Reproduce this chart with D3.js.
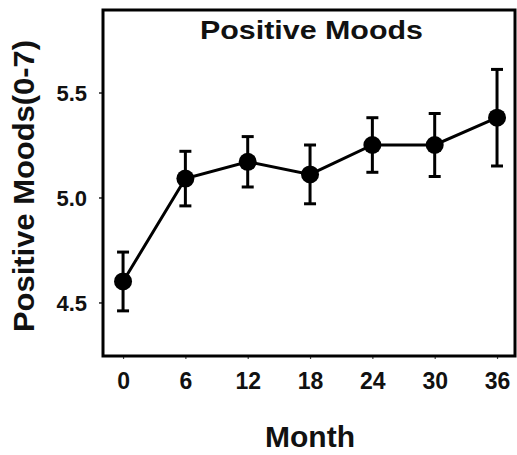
<!DOCTYPE html>
<html>
<head>
<meta charset="utf-8">
<script src="https://cdn.jsdelivr.net/npm/d3@7"></script>
<style>
  html, body { margin: 0; padding: 0; background: #fff; }
  svg { display: block; }
  text { font-family: "Liberation Sans", Arial, sans-serif; font-weight: bold; fill: #111; }
</style>
</head>
<body>
<svg id="chart" width="517" height="455"></svg>
<script>
// Mean positive mood score by month, with error bars
const months = [0, 6, 12, 18, 24, 30, 36];
const moodMeans = [4.60, 5.09, 5.17, 5.11, 5.25, 5.25, 5.38];
const moodErrors = [0.14, 0.13, 0.12, 0.14, 0.13, 0.15, 0.23];
const yTickValues = [4.5, 5.0, 5.5];
const xTickValues = [0, 6, 12, 18, 24, 30, 36];
const titleText = "Positive Moods";
const xLabelText = "Month";
const yLabelText = "Positive Moods(0-7)";

const svg = d3.select("#chart");
const plot = { left: 103, right: 515, top: 10, bottom: 356 };

const x = d3.scaleLinear().domain([-1.93, 37.73]).range([plot.left, plot.right]);
const y = d3.scaleLinear().domain([4.245, 5.893]).range([plot.bottom, plot.top]);

// Axes
const yAxis = d3.axisLeft(y).tickValues(yTickValues).tickFormat(d3.format(".1f"))
  .tickSize(4).tickPadding(12);
const xAxis = d3.axisBottom(x).tickValues(xTickValues).tickFormat(d3.format("d"))
  .tickSize(3).tickPadding(14);

const gy = svg.append("g").attr("transform", `translate(${plot.left},0)`).call(yAxis);
gy.select(".domain").remove();
gy.selectAll(".tick line").attr("stroke", "#222").attr("stroke-width", 1.5);
gy.selectAll(".tick text").style("font-size", "22px").attr("dy", "0.36em")
  .attr("font-family", null).attr("fill", null);

const gx = svg.append("g").attr("transform", `translate(0,${plot.bottom})`).call(xAxis);
gx.select(".domain").remove();
gx.selectAll(".tick line").attr("stroke", "#444").attr("stroke-width", 1.2);
gx.selectAll(".tick text").style("font-size", "23px").attr("dy", "0.71em")
  .attr("font-family", null).attr("fill", null);

// Frame
svg.append("rect")
  .attr("x", plot.left).attr("y", plot.top)
  .attr("width", plot.right - plot.left).attr("height", plot.bottom - plot.top)
  .attr("fill", "none").attr("stroke", "#000").attr("stroke-width", 3);

// Series
const data = months.map((m, i) => ({ m, v: moodMeans[i], e: moodErrors[i] }));

svg.append("path")
  .datum(data)
  .attr("fill", "none").attr("stroke", "#000").attr("stroke-width", 3)
  .attr("d", d3.line().x(d => x(d.m)).y(d => y(d.v)));

const bars = svg.append("g").attr("stroke", "#000").attr("stroke-width", 3);
const capHalf = 6;
bars.selectAll("line.stem").data(data).join("line").attr("class", "stem")
  .attr("x1", d => x(d.m)).attr("x2", d => x(d.m))
  .attr("y1", d => y(d.v - d.e)).attr("y2", d => y(d.v + d.e));
bars.selectAll("line.top").data(data).join("line").attr("class", "top")
  .attr("x1", d => x(d.m) - capHalf).attr("x2", d => x(d.m) + capHalf)
  .attr("y1", d => y(d.v + d.e)).attr("y2", d => y(d.v + d.e));
bars.selectAll("line.bot").data(data).join("line").attr("class", "bot")
  .attr("x1", d => x(d.m) - capHalf).attr("x2", d => x(d.m) + capHalf)
  .attr("y1", d => y(d.v - d.e)).attr("y2", d => y(d.v - d.e));

svg.append("g").selectAll("circle").data(data).join("circle")
  .attr("cx", d => x(d.m)).attr("cy", d => y(d.v)).attr("r", 9)
  .attr("fill", "#000");

// Titles
svg.append("text")
  .attr("x", 311.5).attr("y", 39)
  .attr("text-anchor", "middle")
  .attr("textLength", 223).attr("lengthAdjust", "spacingAndGlyphs")
  .style("font-size", "26px")
  .text(titleText);

svg.append("text")
  .attr("x", 310).attr("y", 447)
  .attr("text-anchor", "middle")
  .style("font-size", "30px")
  .text(xLabelText);

svg.append("text")
  .attr("transform", "translate(34,186) rotate(-90)")
  .attr("text-anchor", "middle")
  .attr("textLength", 292).attr("lengthAdjust", "spacingAndGlyphs")
  .style("font-size", "30px")
  .text(yLabelText);
</script>
</body>
</html>
